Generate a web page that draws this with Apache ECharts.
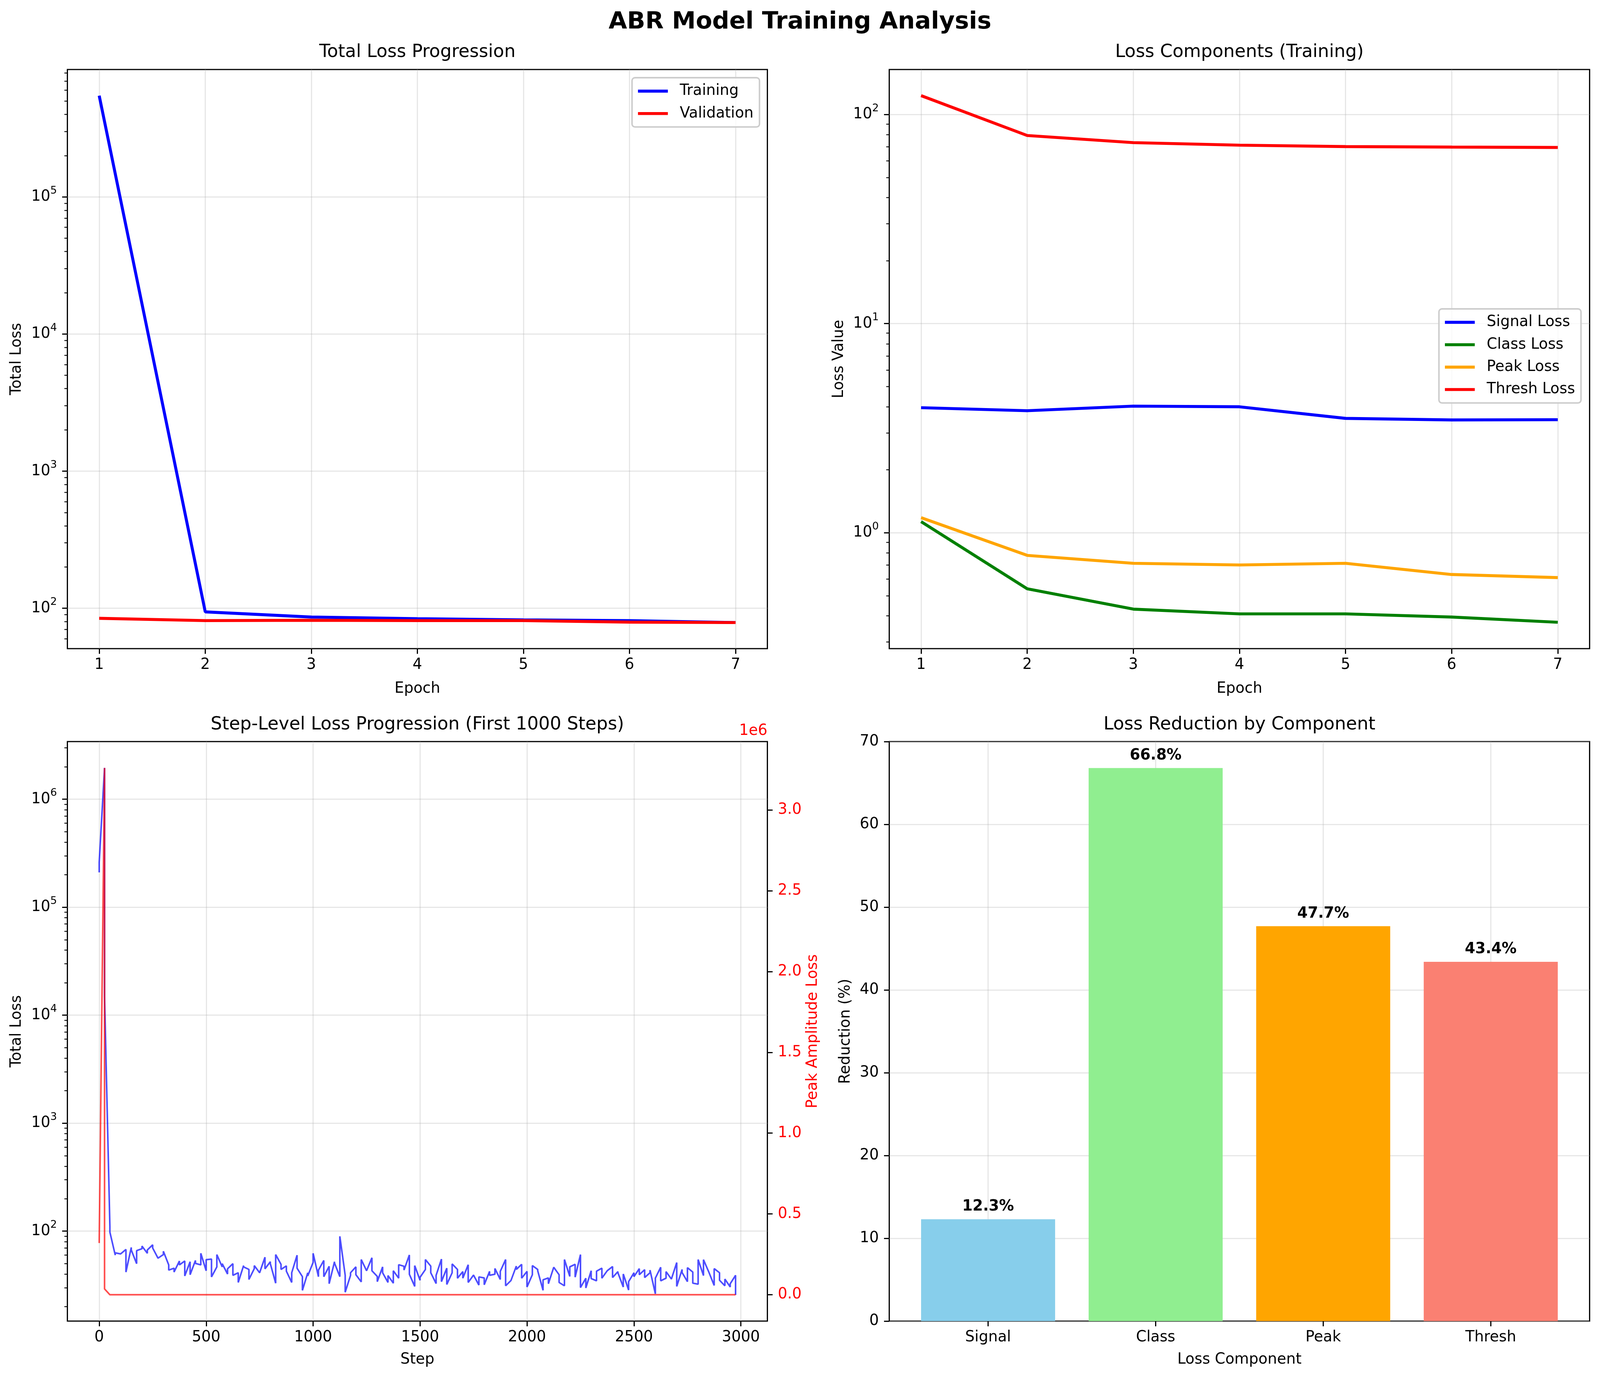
<!DOCTYPE html>
<html>
<head>
<meta charset="utf-8">
<script src="https://cdn.jsdelivr.net/npm/echarts@6/dist/echarts.min.js"></script>
<style>
  html, body { margin: 0; padding: 0; background: #fff; overflow: hidden; }
  #chart { width: 100vw; height: 100vh; }
</style>
</head>
<body>
<div id="chart"></div>
<script>
// values
const epochs = [1, 2, 3, 4, 5, 6, 7];
const trainTotal = [548000, 94.2, 86.3, 84.0, 82.4, 81.3, 78.7];
const valTotal = [84.5, 81.3, 81.8, 81.3, 81.3, 79.3, 78.7];

const signalLoss = [3.96, 3.83, 4.03, 4.00, 3.52, 3.46, 3.47];
const classLoss = [1.13, 0.539, 0.431, 0.409, 0.409, 0.395, 0.373];
const peakLoss = [1.18, 0.779, 0.714, 0.701, 0.714, 0.631, 0.610];
const threshLoss = [123, 79.3, 73.3, 71.3, 70.2, 69.8, 69.5];

const components = ['Signal', 'Class', 'Peak', 'Thresh'];
const reduction = [12.3, 66.8, 47.7, 43.4];
const barColors = ['#87CEEB', '#90EE90', '#FFA500', '#FA8072'];

// step-level total loss: logged every 25 steps, two entries per logged step
const LOG_EVERY = 25;
const stepTotalLoss = [
  [210000, 260000], [1950000, 15000], [110, 98], [60, 63], [61.6, 61.6],
  [67.8, 41.8], [70.7, 66.9], [50.0, 66.0], [68.8, 72.7], [62.4, 66.9],
  [74.7, 69.8], [56.2, 57.0], [60.7, 65.1], [48.7, 43.6], [45.4, 41.8],
  [52.9, 48.7], [52.9, 38.5], [52.1, 39.5], [53.6, 50.3], [48.7, 62.4],
  [43.0, 54.4], [55.1, 37.7], [46.7, 60.7], [46.7, 50.0], [40.1, 44.8],
  [50.0, 39.0], [41.2, 33.5], [48.0, 46.7], [44.2, 35.7], [45.0, 48.0],
  [41.2, 41.2], [57.4, 44.8], [52.1, 50.0], [33.0, 60.7], [49.3, 44.2],
  [47.7, 42.6], [33.5, 41.2], [59.9, 45.4], [37.9, 28.3], [41.2, 38.5],
  [51.4, 62.4], [37.9, 43.6], [53.6, 37.9], [47.3, 32.6], [52.1, 50.7],
  [37.9, 89.5], [39.0, 27.2], [39.0, 41.2], [46.7, 39.5], [33.9, 54.6],
  [43.0, 43.0], [56.7, 43.0], [38.1, 34.1], [46.7, 41.2], [33.5, 38.8],
  [33.0, 43.0], [36.7, 48.9], [47.3, 43.6], [60.2, 39.9], [30.8, 48.0],
  [35.1, 37.4], [44.2, 54.6], [47.5, 41.2], [32.7, 39.0], [55.1, 34.1],
  [45.4, 32.1], [41.2, 49.7], [44.2, 36.7], [42.2, 36.7], [48.9, 33.5],
  [39.2, 39.0], [31.7, 37.7], [36.9, 31.9], [42.4, 39.0], [39.9, 45.1],
  [35.7, 42.4], [54.6, 31.2], [34.9, 34.9], [47.5, 44.2], [49.3, 36.7],
  [42.4, 30.4], [39.5, 48.0], [44.2, 43.0], [28.3, 35.4], [36.9, 32.6],
  [46.3, 46.3], [39.5, 33.5], [31.2, 54.6], [38.1, 46.7], [49.3, 37.5],
  [60.7, 30.0], [36.7, 29.8], [43.0, 36.4], [34.7, 42.6], [45.4, 36.7],
  [43.0, 43.6], [47.0, 37.2], [42.2, 41.2], [30.4, 40.1], [28.5, 34.1],
  [41.2, 37.9], [45.0, 39.5], [44.0, 37.2], [41.2, 43.6], [26.3, 36.7],
  [46.3, 34.7], [36.7, 42.2], [36.0, 36.0], [51.2, 30.8], [44.2, 41.4],
  [34.1, 45.9], [41.8, 33.0], [32.3, 54.6], [38.8, 54.4], [41.8, 41.8],
  [31.4, 45.0], [41.2, 35.1], [31.2, 36.0], [30.4, 32.6], [39.0, 25.7]
];
// peak amplitude loss (right axis), flat at ~0 after step 50
const peakAmpPoints = [[0, 320000], [25, 3260000], [25, 36000], [50, 0], [2975, 0]];

const epochTicks = [1, 2, 3, 4, 5, 6, 7];
const stepTicks = [0, 500, 1000, 1500, 2000, 2500, 3000];
const peakTicks = [0, 500000, 1000000, 1500000, 2000000, 2500000, 3000000];
const reductionTicks = [0, 10, 20, 30, 40, 50, 60, 70];
const totalTicksTop = [100, 1000, 10000, 100000];
const compTicks = [1, 10, 100];
const totalTicksStep = [100, 1000, 10000, 100000, 1000000];

// ---- layout: measured on a 4464 x 3539 canvas, scaled to the real viewport ----
const dom = document.getElementById('chart');
const VW = dom.clientWidth || 4464;
const VH = dom.clientHeight || 3539;
const sx = VW / 4464, sy = VH / 3539, s = Math.min(sx, sy);
const X = v => v * sx, Y = v => v * sy, S = v => v * s;

const PT = S(300 / 72);
const FS = 10 * PT;
const FONT = 'DejaVu Sans';

const grids = [
  { left: X(188), top: Y(178), width: X(1953), height: Y(1483) },
  { left: X(2481), top: Y(178), width: X(1954), height: Y(1483) },
  { left: X(188), top: Y(1899), width: X(1953), height: Y(1484) },
  { left: X(2481), top: Y(1899), width: X(1954), height: Y(1484) }
];

const splitStyle = { show: true, lineStyle: { color: 'rgba(176,176,176,0.3)', width: 0.8 * PT } };
const nameStyle = { fontSize: FS, fontFamily: FONT, color: '#000', lineHeight: FS };
const noLine = { show: false, onZero: false };

function tick(values) {
  return { show: true, inside: false, length: 3.5 * PT, lineStyle: { color: '#000', width: 0.8 * PT }, customValues: values };
}
function label(values, extra) {
  return Object.assign({ show: true, color: '#000', fontSize: FS, fontFamily: FONT, lineHeight: FS, margin: 7 * PT, customValues: values }, extra || {});
}
const powLabel = {
  formatter: v => '10{sup|' + Math.round(Math.log10(v)) + '}',
  rich: { sup: { fontSize: FS * 0.7, fontFamily: FONT, color: '#000', padding: [0, 0, FS * 0.8, 0] } }
};

function minorTicks(min, max) {
  const out = [];
  for (let e = Math.floor(Math.log10(min)); e <= Math.ceil(Math.log10(max)); e++) {
    for (let k = 2; k <= 9; k++) {
      const v = k * Math.pow(10, e);
      if (v > min && v < max) out.push(v);
    }
  }
  return out;
}

function xValue(gi, min, max, ticks, name, gap, fmt) {
  return {
    type: 'value', gridIndex: gi, min: min, max: max, position: 'bottom',
    axisLine: noLine, axisTick: tick(ticks),
    axisLabel: label(ticks, { margin: S(25), formatter: fmt || (v => String(v)) }),
    splitLine: splitStyle, name: name, nameLocation: 'middle', nameGap: Y(gap), nameTextStyle: nameStyle
  };
}
function yLog(gi, min, max, ticks, name, gap) {
  return {
    type: 'log', logBase: 10, gridIndex: gi, min: min, max: max, position: 'left',
    axisLine: noLine, axisTick: tick(ticks), axisLabel: label(ticks, powLabel),
    splitLine: splitStyle, name: name, nameLocation: 'middle', nameGap: X(gap), nameTextStyle: nameStyle
  };
}
function yMinor(gi, min, max) {
  return {
    type: 'log', logBase: 10, gridIndex: gi, min: min, max: max, position: 'left',
    axisLine: noLine, axisLabel: { show: false }, splitLine: { show: false },
    axisTick: { show: true, inside: false, length: 2 * PT, lineStyle: { color: '#000', width: 0.6 * PT }, customValues: minorTicks(min, max) }
  };
}

const stepData = [];
stepTotalLoss.forEach((pair, k) => {
  stepData.push([k * LOG_EVERY, pair[0]]);
  stepData.push([k * LOG_EVERY, pair[1]]);
});

function zip(xs, ys) { return xs.map((x, i) => [x, ys[i]]); }
function line(name, xi, yi, data, color, width, opacity) {
  return {
    type: 'line', name: name, xAxisIndex: xi, yAxisIndex: yi, data: data,
    symbol: 'none', showSymbol: false, animation: false,
    lineStyle: { color: color, width: width, opacity: opacity == null ? 1 : opacity },
    itemStyle: { color: color }
  };
}

function gtext(str, x, y, size, weight, color, align) {
  const a = align || 'center';
  return {
    type: 'text', x: X(x), y: Y(y), silent: true,
    style: {
      text: str, fill: color || '#000', font: (weight || 'normal') + ' ' + size + 'px "' + FONT + '"',
      textAlign: a, align: a, textVerticalAlign: 'middle', verticalAlign: 'middle'
    }
  };
}

const legendBase = {
  orient: 'vertical', align: 'left', icon: 'rect', selectedMode: false,
  itemWidth: 2 * FS, itemHeight: 2 * PT, itemGap: 0.5 * FS,
  padding: [0.4 * FS, 0.4 * FS], backgroundColor: 'rgba(255,255,255,0.8)',
  borderColor: '#cccccc', borderWidth: 1 * PT, borderRadius: 0.2 * FS,
  textStyle: { fontSize: FS, fontFamily: FONT, color: '#000', lineHeight: FS, padding: [0, 0, 0, 0.8 * FS - 5] }
};

const chart = echarts.init(dom, null, { renderer: 'canvas' });

const option = {
  animation: false,
  backgroundColor: '#fff',
  textStyle: { fontFamily: FONT },
  grid: grids.map(g => Object.assign({ show: true, borderColor: '#000', borderWidth: 0.8 * PT, backgroundColor: 'transparent' }, g)),
  legend: [
    Object.assign({ data: ['Training', 'Validation'], right: X(4464 - 2119), top: Y(199) }, legendBase),
    Object.assign({ data: ['Signal Loss', 'Class Loss', 'Peak Loss', 'Thresh Loss'], right: X(4464 - 4411), top: Y(791) }, legendBase)
  ],
  xAxis: [
    xValue(0, 0.7, 7.3, epochTicks, 'Epoch', 84),
    xValue(1, 0.7, 7.3, epochTicks, 'Epoch', 84),
    xValue(2, -148.75, 3123.75, stepTicks, 'Step', 80),
    xValue(3, -0.59, 3.59, [0, 1, 2, 3], 'Loss Component', 80, v => components[Math.round(v)] || '')
  ],
  yAxis: [
    yLog(0, 50.8, 850000, totalTicksTop, 'Total Loss', 120),
    yLog(1, 0.279, 164, compTicks, 'Loss Value', 119),
    yLog(2, 14.7, 3420000, totalTicksStep, 'Total Loss', 120),
    {
      type: 'value', gridIndex: 2, min: -163000, max: 3423000, position: 'right',
      axisLine: noLine, axisTick: tick(peakTicks),
      axisLabel: label(peakTicks, { color: '#ff0000', formatter: v => (v / 1e6).toFixed(1) }),
      splitLine: { show: false },
      name: 'Peak Amplitude Loss', nameLocation: 'middle', nameGap: X(106),
      nameTextStyle: Object.assign({}, nameStyle, { color: '#ff0000' })
    },
    {
      type: 'value', gridIndex: 3, min: 0, max: 70, interval: 10, position: 'left',
      axisLine: noLine, axisTick: tick(reductionTicks),
      axisLabel: label(reductionTicks, { formatter: v => String(v) }),
      splitLine: splitStyle,
      name: 'Reduction (%)', nameLocation: 'middle', nameGap: X(101), nameTextStyle: nameStyle
    },
    yMinor(0, 50.8, 850000),
    yMinor(1, 0.279, 164),
    yMinor(2, 14.7, 3420000)
  ],
  series: [
    line('Training', 0, 0, zip(epochs, trainTotal), '#0000ff', 2 * PT),
    line('Validation', 0, 0, zip(epochs, valTotal), '#ff0000', 2 * PT),
    line('Signal Loss', 1, 1, zip(epochs, signalLoss), '#0000ff', 2 * PT),
    line('Class Loss', 1, 1, zip(epochs, classLoss), '#008000', 2 * PT),
    line('Peak Loss', 1, 1, zip(epochs, peakLoss), '#FFA500', 2 * PT),
    line('Thresh Loss', 1, 1, zip(epochs, threshLoss), '#ff0000', 2 * PT),
    line('Step Total Loss', 2, 2, stepData, '#0000ff', 1.05 * PT, 0.7),
    line('Peak Amplitude Loss', 2, 3, peakAmpPoints, '#ff0000', 1.05 * PT, 0.7),
    {
      type: 'bar', name: 'Reduction', xAxisIndex: 3, yAxisIndex: 4, animation: false,
      barWidth: 0.8 * grids[3].width / 4.18,
      data: reduction.map((v, i) => ({ value: [i, v], itemStyle: { color: barColors[i] } })),
      label: {
        show: true, position: 'top', distance: Y(13), color: '#000', fontWeight: 'bold',
        fontSize: FS, fontFamily: FONT, lineHeight: FS,
        formatter: p => p.value[1].toFixed(1) + '%'
      }
    }
  ],
  graphic: [
    gtext('ABR Model Training Analysis', 2232, 57, 16 * PT, 'bold'),
    gtext('Total Loss Progression', 1164.5, 134, 12 * PT),
    gtext('Loss Components (Training)', 3458, 134, 12 * PT),
    gtext('Step-Level Loss Progression (First 1000 Steps)', 1164.5, 1856, 12 * PT),
    gtext('Loss Reduction by Component', 3458, 1856, 12 * PT),
    gtext('1e6', 2141, 1872, FS, 'normal', '#ff0000', 'right')
  ]
};

chart.setOption(option);
</script>
</body>
</html>
